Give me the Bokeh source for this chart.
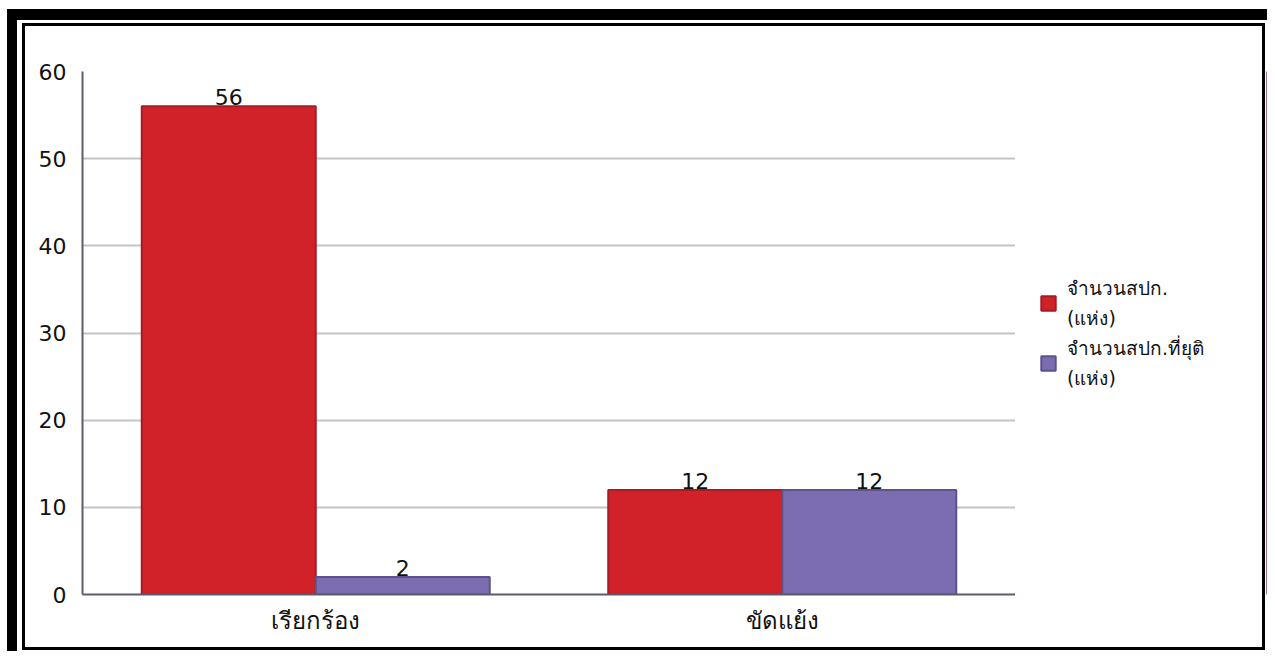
from bokeh.plotting import figure
from bokeh.models import ColumnDataSource, FactorRange, Range1d, Legend, LegendItem, InlineStyleSheet
from bokeh.layouts import row
from bokeh.transform import dodge
from bokeh.core.properties import value
from bokeh.embed import file_html
from bokeh.resources import INLINE

categories = ["เรียกร้อง", "ขัดแย้ง"]
series_names = ["จำนวนสปก.\n(แห่ง)", "จำนวนสปก.ที่ยุติ\n(แห่ง)"]
count_all = [56, 12]
count_done = [2, 12]
y_ticks = [0, 10, 20, 30, 40, 50, 60]

RED = "#d12229"
RED_EDGE = "#a51c22"
PURPLE = "#7b6db0"
PURPLE_EDGE = "#5d528c"
FONT = "DejaVu Sans"

source = ColumnDataSource(data=dict(
    cat=categories,
    a=count_all,
    b=count_done,
    a_txt=[str(v) for v in count_all],
    b_txt=[str(v) for v in count_done],
))

css = InlineStyleSheet(css="""
:host { position: relative; }
:host::before {
  content: ""; position: absolute; left: 7px; top: 9px; right: 0; bottom: 0;
  border-left: 10px solid black; border-top: 11px solid black;
  pointer-events: none; z-index: 10; box-sizing: border-box;
}
:host::after {
  content: ""; position: absolute; left: 22px; top: 23px; right: 2px; bottom: 1px;
  border: 3px solid black; pointer-events: none; z-index: 10; box-sizing: border-box;
}
""")

p = figure(
    x_range=FactorRange(factors=categories, range_padding=0),
    y_range=Range1d(0, 60),
    width=1015, height=651,
    min_border_left=82, min_border_right=0, min_border_top=71, min_border_bottom=57,
    output_backend="svg", toolbar_location=None,
)
p.outline_line_color = None
p.background_fill_color = "white"
p.border_fill_color = "white"

W = 0.373
p.vbar(x=dodge("cat", -W / 2, range=p.x_range), top="a", width=W, source=source,
       fill_color=RED, line_color=RED_EDGE, line_width=2)
p.vbar(x=dodge("cat", W / 2, range=p.x_range), top="b", width=W, source=source,
       fill_color=PURPLE, line_color=PURPLE_EDGE, line_width=2)

p.text(x=dodge("cat", -W / 2, range=p.x_range), y="a", text="a_txt", source=source,
       text_align="center", text_baseline="bottom", y_offset=-1,
       text_font=value(FONT), text_font_size="22px", text_color="#111111")
p.text(x=dodge("cat", W / 2, range=p.x_range), y="b", text="b_txt", source=source,
       text_align="center", text_baseline="bottom", y_offset=-1,
       text_font=value(FONT), text_font_size="22px", text_color="#111111")

# axes
p.yaxis.ticker = y_ticks
p.yaxis.major_tick_line_color = None
p.yaxis.minor_tick_line_color = None
p.yaxis.axis_line_color = "#5c5c6c"
p.yaxis.axis_line_width = 2
p.yaxis.major_label_text_font = FONT
p.yaxis.major_label_text_font_size = "22px"
p.yaxis.major_label_text_color = "#111111"
p.yaxis.major_label_standoff = 10

p.xaxis.major_tick_line_color = None
p.xaxis.minor_tick_line_color = None
p.xaxis.axis_line_color = "#5c5c6c"
p.xaxis.axis_line_width = 2
p.xaxis.major_label_text_font = FONT
p.xaxis.major_label_text_font_size = "24px"
p.xaxis.major_label_text_color = "#111111"
p.xaxis.major_label_standoff = 6

p.xgrid.grid_line_color = None
p.ygrid.grid_line_color = "#c4c4c8"
p.ygrid.grid_line_width = 2

# legend panel (separate figure so nothing is clipped)
lp = figure(
    width=252, height=651, x_range=Range1d(0, 1), y_range=Range1d(0, 1),
    x_axis_type=None, y_axis_type=None, min_border=0,
    output_backend="svg", toolbar_location=None,
)
lp.outline_line_color = None
lp.grid.visible = False
lp.background_fill_color = "white"
lp.border_fill_color = "white"
# swatch renderers: their single point lies outside the visible range
lr1 = lp.vbar(x=[10], top=[10], width=0.1, fill_color=RED, line_color=RED_EDGE, line_width=2)
lr2 = lp.vbar(x=[10], top=[10], width=0.1, fill_color=PURPLE, line_color=PURPLE_EDGE, line_width=2)

legend = Legend(items=[
    LegendItem(label=series_names[0], renderers=[lr1]),
    LegendItem(label=series_names[1], renderers=[lr2]),
], location="center_left")
legend.border_line_color = None
legend.background_fill_alpha = 0
legend.label_text_font = FONT
legend.label_text_font_size = "19px"
legend.label_text_color = "#111111"
legend.glyph_width = 18
legend.glyph_height = 18
legend.label_standoff = 10
legend.margin = 24
legend.padding = 10
legend.spacing = 0
lp.add_layout(legend)

layout = row(p, lp, spacing=0, stylesheets=[css])

open("out.html", "w").write(file_html(layout, INLINE))
